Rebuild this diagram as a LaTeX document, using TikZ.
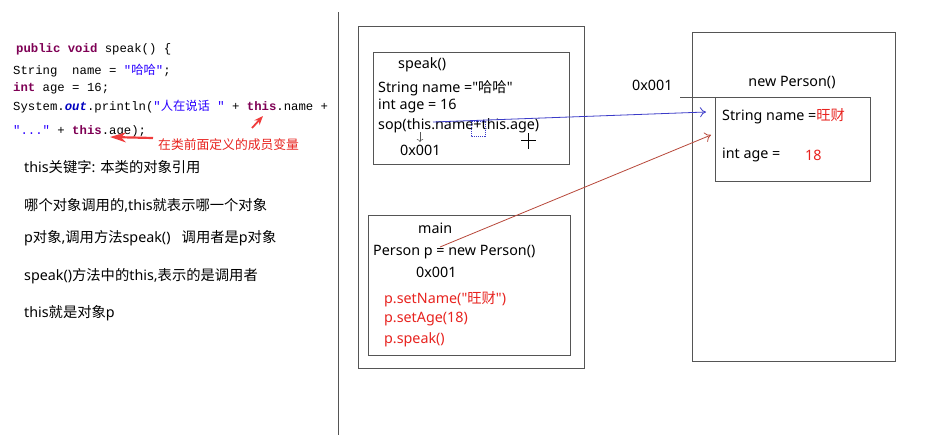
\documentclass[tikz,border=0pt]{standalone}
\usepackage{fontspec}
\setmainfont{Noto Sans}
\setmonofont{Liberation Mono}
\newfontfamily\cjk{Noto Sans CJK SC}
\newfontfamily\plainsans{Noto Sans}
\newcommand{\zh}[1]{{\cjk #1}}
\newcommand{\dq}{{\plainsans\symbol{34}}}
\usetikzlibrary{arrows.meta}
\definecolor{kw}{HTML}{7F0055}
\definecolor{strc}{HTML}{2A00FF}
\definecolor{fld}{HTML}{0000C0}
\definecolor{redtxt}{HTML}{E8231F}
\definecolor{boxc}{HTML}{555555}
\definecolor{bluearr}{HTML}{3B3BC8}
\definecolor{redarr}{HTML}{B8473A}
\definecolor{notered}{HTML}{F03C3C}
\begin{document}
\begin{tikzpicture}[x=1pt,y=-1pt,
  txt/.style={anchor=west,inner sep=0pt,font=\fontsize{14.3}{17}\selectfont},
  rtxt/.style={txt,text=redtxt},
  code/.style={anchor=west,inner sep=0pt,font=\ttfamily\fontsize{12.3}{15}\selectfont},
  frame/.style={draw=boxc,line width=1pt}]
\useasboundingbox (0,0) rectangle (951,442);
\fill[white] (0,0) rectangle (951,442);
\newcommand{\K}[1]{\textcolor{kw}{\textbf{#1}}}
\newcommand{\St}[1]{\textcolor{strc}{#1}}
% code
\node[code] (c1) at (16,49) {\K{public} \K{void} speak() \{};
\node[code] (c2) at (13,71) {String\ \ name = \St{"\zh{哈哈}"};};
\node[code] (c3) at (13,88) {\K{int} age = 16;};
\node[code] (c4) at (13,107) {System.\textcolor{fld}{\textbf{\textit{out}}}.println(\St{"\zh{人在说话} "} + \K{this}.name +};
\node[code] (c5) at (13,131) {\St{"..."} + \K{this}.age);};
\node[rtxt,font=\cjk\fontsize{12.8}{15}\selectfont] (note) at (158,145) {在类前面定义的成员变量};
\coordinate (t1) at (252,128);
\coordinate (h1) at (263,116);
\coordinate (t2) at (153,138);
\coordinate (h2) at (110,137);
\draw[notered,line width=1.8pt,-{Stealth[length=9pt,width=7pt]}] (t1) -- (h1);
\draw[notered,line width=2.2pt,-{Stealth[length=16pt,width=10pt]}] (t2) -- (h2);
% explanations
\node[txt] (e1) at (24,167) {this\zh{关键字}: \zh{本类的对象引用}};
\node[txt] (e2) at (24,205) {\zh{哪个对象调用的},this\zh{就表示哪一个对象}};
\node[txt] (e3) at (24,238) {p\zh{对象},\zh{调用方法}speak()\ \ \ \zh{调用者是}p\zh{对象}};
\node[txt] (e4) at (24,276) {speak()\zh{方法中的}this,\zh{表示的是调用者}};
\node[txt] (e5) at (24,313) {this\zh{就是对象}p};
% divider
\coordinate (dtop) at (338,12);
\coordinate (dbot) at (338,435);
\draw[boxc,line width=1pt] (dtop) -- (dbot);
% stack
\draw[frame] (358,26) rectangle (584,368);
\draw[frame] (373,52) rectangle (569,164);
\draw[frame] (368,215) rectangle (570,355);
\node[txt] (sp) at (398,65) {speak()};
\node[txt] (sn) at (378,88) {String name =\dq\zh{哈哈}\dq};
\node[txt] (sa) at (378,106) {int age = 16};
\node[txt] (sop) at (378,126) {sop(this.name+this.age)};
\node[txt] (sx) at (400,150) {0x001};
\draw[boxc,line width=0.6pt,->,>={To[length=3pt]}] (420,132) -- (420,142);
\draw[bluearr,line width=1pt,densely dotted] (471,121) rectangle (485,136);
\draw[black,line width=0.6pt] (521,140) -- (536,140) (528,133) -- (528,149);
\node[txt] (mn) at (418,228) {main};
\node[txt] (mp) at (373,252) {Person p = new Person()};
\node[txt] (mx) at (416,272) {0x001};
\node[rtxt] (m1) at (384,299) {p.setName(\dq\zh{旺财}\dq)};
\node[rtxt] (m2) at (384,319) {p.setAge(18)};
\node[rtxt] (m3) at (384,340) {p.speak()};
% heap
\draw[frame] (692,32) rectangle (895,361);
\draw[frame] (715,97) rectangle (870,181);
\node[txt] (hx) at (632,85) {0x001};
\node[txt,anchor=center] (hp) at (792,83) {new Person()};
\coordinate (hl) at (680,97);
\draw[boxc,line width=1pt] (hl) -- (715,97);
\node[txt] (hn) at (722,116) {String name =\textcolor{redtxt}{\zh{旺财}}};
\node[txt] (ha) at (722,155) {int age =};
\node[rtxt] (h18) at (805,155) {18};
% arrows
\coordinate (ba) at (433,122);
\coordinate (bb) at (706,112);
\coordinate (ra) at (440,247);
\coordinate (rb) at (711,135);
\draw[bluearr,line width=0.8pt,-{To[length=6pt,width=10pt]}] (ba) -- (bb);
\draw[redarr,line width=0.8pt,-{To[length=6pt,width=10pt]}] (ra) -- (rb);
\end{tikzpicture}
\end{document}
